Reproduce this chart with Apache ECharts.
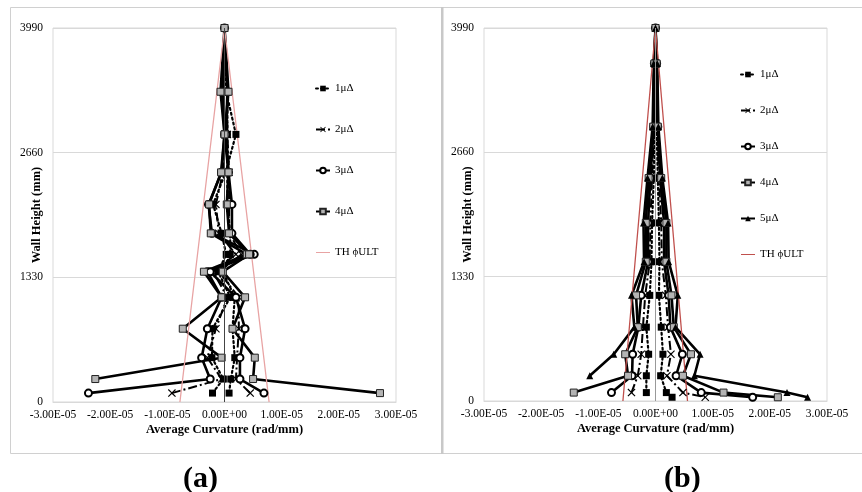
<!DOCTYPE html>
<html><head><meta charset="utf-8">
<script src="https://cdn.jsdelivr.net/npm/echarts@6/dist/echarts.min.js"></script>
<style>html,body{margin:0;padding:0;background:#fff}#c{width:862px;height:492px}</style>
</head><body><div id="c"></div><script>
// Curvature values in units of 1e-6 rad/mm; heights in mm.
// Panel (a)
const levelsA = [95, 245, 473, 782, 1117, 1390, 1575, 1799, 2108, 2450, 2855, 3310, 3990];
const a1Neg = [-2.1, -0.2, -2.2, -2.1, 1.0, -1.1, 0.3, -0.5, -2.0, 0.2, 2.0, 0.3, 0];
const a1Pos = [0.8, 1.1, 1.8, 1.4, 1.8, -0.3, 1.0, 1.0, 0.5, 0.5, 0.5, 0.5];
const a2Neg = [-9.2, -0.5, -3.0, -1.5, 0.5, -2.0, 2.0, -1.0, -1.5, -0.3, 0.2, -0.3, 0];
const a2Pos = [4.5, 2.0, 2.2, 2.5, 2.5, -1.0, 3.0, 0.8, 0.8, 0.8, 0.5, 0.5];
const a3Neg = [-23.8, -2.5, -4.0, -3.0, -0.5, -3.0, 5.2, -2.2, -2.8, -0.5, 0.0, -0.3, 0];
const a3Pos = [6.9, 2.7, 2.7, 3.6, 2.0, -2.5, 4.5, 1.3, 1.3, 0.7, 0.3, 0.5];
const a4Neg = [null, -22.6, -0.5, -7.3, -0.5, -3.6, 3.9, -2.4, -2.7, -0.6, 0.0, -0.7, 0];
const a4Pos = [27.2, 5.0, 5.3, 1.4, 3.6, -0.3, 4.3, 0.8, 0.4, 0.7, 0.0, 0.7];
const thAx = [-7.8, 0, 7.8];
const thAh = [0, 3990, 0];
// Panel (b)
const levelsB = [40, 90, 270, 500, 790, 1130, 1490, 1905, 2385, 2935, 3610, 3990];
const b1Neg = [null, -1.6, -1.6, -1.2, -1.6, -1.0, -0.7, -0.6, -0.3, -0.1, 0.0, 0];
const b1Pos = [2.9, 1.9, 0.9, 1.3, 1.0, 0.6, 0.7, 0.6, 0.4, 0.2, 0.1];
const b2Neg = [null, -4.2, -3.1, -2.5, -2.2, -1.8, -1.0, -0.9, -0.6, -0.2, -0.1, 0];
const b2Pos = [8.7, 4.8, 2.0, 2.7, 2.2, 1.8, 1.1, 1.0, 0.6, 0.3, 0.1];
const b3Neg = [null, -7.7, -4.1, -4.0, -3.0, -2.5, -1.3, -1.3, -0.9, -0.3, -0.2, 0];
const b3Pos = [17.0, 8.0, 3.6, 4.7, 2.6, 2.3, 1.5, 1.5, 0.8, 0.4, 0.2];
const b4Neg = [null, -14.3, -4.8, -5.3, -3.1, -3.4, -1.7, -1.7, -1.2, -0.4, -0.2, 0];
const b4Pos = [21.4, 11.9, 4.8, 6.2, 3.2, 2.8, 1.9, 1.9, 1.0, 0.4, 0.2];
const b5Neg = [null, null, -11.5, -7.3, -3.7, -4.2, -2.0, -2.1, -1.4, -0.5, -0.3, 0];
const b5Pos = [26.6, 23.0, 6.8, 7.8, 3.5, 3.9, 2.3, 2.2, 1.2, 0.5, 0.3];
const thBx = [-5.7, 0, 5.6];
const thBh = [0, 3990, 0];

const xTicks = {min: -30, max: 30, step: 10};
const yTicks = {min: 0, max: 3990, step: 1330};
const names = ['1μΔ', '2μΔ', '3μΔ', '4μΔ', '5μΔ', 'TH ϕULT'];

const FONT = "'Liberation Serif','Times New Roman',serif";

function path(levels, neg, pos) {
  const pts = [];
  levels.forEach((h, i) => { if (neg[i] != null) pts.push([neg[i], h]); });
  for (let i = pos.length - 1; i >= 0; i--) if (pos[i] != null) pts.push([pos[i], levels[i]]);
  return pts;
}
function fmt(v) {
  if (Math.abs(v) < 1e-9) return '0.00E+00';
  return (v * 1e-6).toExponential(2).toUpperCase().replace(/E([+-])(\d)$/, 'E$10$2');
}
const CROSS = 'path://M0,1 L1,0 L5,4 L9,0 L10,1 L6,5 L10,9 L9,10 L5,6 L1,10 L0,9 L4,5 Z';
const LINEICON = 'path://M0,0 L20,0 L20,1.4 L0,1.4 Z';
const style = {
  '1μΔ': {lineStyle: {color: '#000', width: 2.2, type: [2, 3], cap: 'round'}, symbol: 'rect', symbolSize: 7, itemStyle: {color: '#000'}},
  '2μΔ': {lineStyle: {color: '#000', width: 2, type: [9, 3, 2, 3]}, symbol: CROSS, symbolSize: 8, itemStyle: {color: '#000'}},
  '3μΔ': {lineStyle: {color: '#000', width: 2.6}, symbol: 'emptyCircle', symbolSize: 7, itemStyle: {color: '#000', borderColor: '#000', borderWidth: 1.6}},
  '4μΔ': {lineStyle: {color: '#000', width: 2.6}, symbol: 'rect', symbolSize: 7, itemStyle: {color: '#b4b4b4', borderColor: '#222', borderWidth: 1}},
  '5μΔ': {lineStyle: {color: '#000', width: 2.6}, symbol: 'triangle', symbolSize: 7, itemStyle: {color: '#000'}}
};
function mk(name, data, gi, extra) {
  return Object.assign({
    type: 'line', name, data, xAxisIndex: gi, yAxisIndex: gi,
    showSymbol: true, showAllSymbol: true, animation: false, silent: true
  }, style[name], extra || {});
}
function zeroLine(color) {
  return {silent: true, symbol: ['none', 'none'], label: {show: false},
    lineStyle: {color, width: 1, type: 'solid'}, data: [{xAxis: 0}], animation: false};
}
const thA = thAx.map((x, i) => [x, thAh[i]]);
const thB = thBx.map((x, i) => [x, thBh[i]]);

const series = [
  mk('1μΔ', path(levelsA, a1Neg, a1Pos), 0, {markLine: zeroLine('#444')}),
  mk('2μΔ', path(levelsA, a2Neg, a2Pos), 0),
  mk('3μΔ', path(levelsA, a3Neg, a3Pos), 0),
  mk('4μΔ', path(levelsA, a4Neg, a4Pos), 0),
  {type: 'line', name: 'TH ϕULT', data: thA, xAxisIndex: 0, yAxisIndex: 0, showSymbol: false, symbol: 'none',
    lineStyle: {color: '#e8a3a3', width: 1.3}, itemStyle: {color: '#e8a3a3'}, animation: false, silent: true},
  mk('1μΔ', path(levelsB, b1Neg, b1Pos), 1, {markLine: zeroLine('#999')}),
  mk('2μΔ', path(levelsB, b2Neg, b2Pos), 1),
  mk('3μΔ', path(levelsB, b3Neg, b3Pos), 1),
  mk('4μΔ', path(levelsB, b4Neg, b4Pos), 1),
  mk('5μΔ', path(levelsB, b5Neg, b5Pos), 1),
  {type: 'line', name: 'TH ϕULT', data: thB, xAxisIndex: 1, yAxisIndex: 1, showSymbol: false, symbol: 'none',
    lineStyle: {color: '#c0504d', width: 1.3}, itemStyle: {color: '#c0504d'}, animation: false, silent: true}
];

function xAx(gi) {
  return {type: 'value', gridIndex: gi, min: xTicks.min, max: xTicks.max, interval: xTicks.step,
    axisLine: {show: true, onZero: false, lineStyle: {color: '#d9d9d9'}}, axisTick: {show: false},
    splitLine: {show: false},
    axisLabel: {formatter: fmt, fontFamily: FONT, fontSize: 11.5, color: '#000', margin: 7},
    name: 'Average Curvature (rad/mm)', nameLocation: 'middle', nameGap: 21, nameMoveOverlap: false,
    nameTextStyle: {fontFamily: FONT, fontSize: 12.5, fontWeight: 'bold', color: '#000'}};
}
function yAx(gi) {
  return {type: 'value', gridIndex: gi, min: yTicks.min, max: yTicks.max, interval: yTicks.step,
    axisLine: {show: false}, axisTick: {show: false},
    splitLine: {show: true, lineStyle: {color: '#d9d9d9', width: 1}},
    axisLabel: {formatter: v => String(v), fontFamily: FONT, fontSize: 11.5, color: '#000', margin: 10},
    name: 'Wall Height (mm)', nameLocation: 'middle', nameGap: 10, nameRotate: 90, nameMoveOverlap: false,
    nameTextStyle: {fontFamily: FONT, fontSize: 12.5, fontWeight: 'bold', color: '#000'}};
}
const legText = {fontFamily: FONT, fontSize: 11, color: '#000'};
function thItem(color) {
  return {name: 'TH ϕULT', icon: LINEICON, symbolKeepAspect: true, itemStyle: {color}, lineStyle: {color}};
}
const option = {
  backgroundColor: '#fff',
  animation: false,
  grid: [
    {left: 53, right: 466, top: 28, bottom: 90, show: true, borderColor: '#d9d9d9', borderWidth: 1, backgroundColor: 'transparent'},
    {left: 484, right: 35, top: 28, bottom: 91, show: true, borderColor: '#d9d9d9', borderWidth: 1, backgroundColor: 'transparent'}
  ],
  xAxis: [xAx(0), xAx(1)],
  yAxis: [yAx(0), yAx(1)],
  legend: [
    {orient: 'vertical', left: 310, top: 78, itemGap: 30, itemWidth: 14, itemHeight: 7, textStyle: legText,
      data: names.filter(n => n !== '5μΔ' && n !== 'TH ϕULT').concat([thItem('#e8a3a3')])},
    {orient: 'vertical', left: 735, top: 64, itemGap: 25, itemWidth: 14, itemHeight: 7, textStyle: legText,
      data: names.filter(n => n !== 'TH ϕULT').concat([thItem('#c0504d')])}
  ],
  graphic: [
    {type: 'rect', shape: {x: 10.5, y: 7.5, width: 432, height: 446}, style: {fill: 'none', stroke: '#d0d0d0', lineWidth: 1}, silent: true, z: -10},
    {type: 'rect', shape: {x: 442.5, y: 7.5, width: 430, height: 446}, style: {fill: 'none', stroke: '#d0d0d0', lineWidth: 1}, silent: true, z: -10},
    {type: 'rect', shape: {x: 441, y: 7, width: 2.5, height: 447}, style: {fill: '#c8c8c8'}, silent: true, z: -9},
    {type: 'text', left: 183, top: 464, style: {text: '(a)', font: "bold 30px 'Liberation Serif', serif", fill: '#000'}, silent: true},
    {type: 'text', left: 664, top: 464, style: {text: '(b)', font: "bold 30px 'Liberation Serif', serif", fill: '#000'}, silent: true}
  ],
  series
};
const chart = echarts.init(document.getElementById('c'), null, {renderer: 'canvas'});
chart.setOption(option);
</script></body></html>
